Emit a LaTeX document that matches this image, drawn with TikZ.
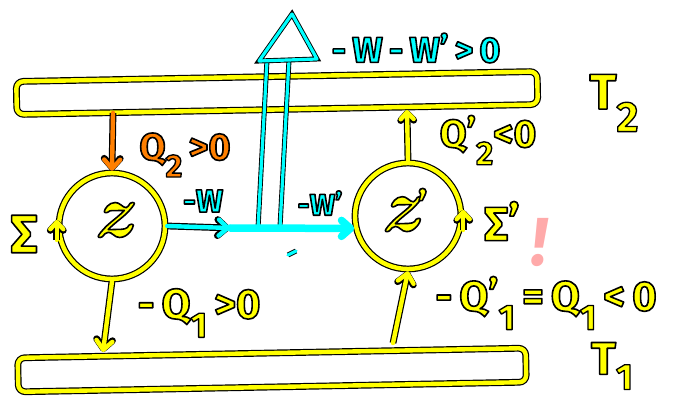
\documentclass[tikz,border=0pt]{standalone}
\usepackage{fontspec}
\setmainfont{Fira Sans}
\newfontfamily\lmfont{Latin Modern Roman}
\usetikzlibrary{arrows.meta}
\definecolor{yl}{HTML}{FFFF00}
\definecolor{cy}{HTML}{00FFFF}
\definecolor{orng}{HTML}{FF7F00}
\definecolor{pnk}{HTML}{FFAAAA}
\newcommand{\outl}[1]{\special{pdf:literal direct 0 0 0 RG 1.6 w 1 j 2 Tr}#1\special{pdf:literal direct 0 Tr}}
\newcommand{\lowsub}[1]{\raisebox{-0.45em}{\scalebox{0.85}{\outl{#1}}}}
\newcommand{\tsub}[1]{\raisebox{-0.33em}{\scalebox{0.8}{\outl{#1}}}}
\newcommand{\hprime}{\raisebox{0.05em}{\outl{’}}}
\tikzset{
  brush/.style={draw=#1, line width=4.4pt, line cap=round, line join=round,
    preaction={draw=black, line width=6.8pt}},
  thinbrush/.style={draw=#1, line width=3.2pt, line cap=round, line join=round,
    preaction={draw=black, line width=5pt}},
  barb/.style={-{Straight Barb[length=9pt,width=16pt,round]}},
  smallbarb/.style={-{Straight Barb[length=7pt,width=13pt,round]}},
  reservoir/.style={brush=yl, rectangle, rounded corners=7pt, minimum width=521pt,
    minimum height=33pt, rotate=1.1},
  engine/.style={brush=yl, circle, minimum size=106pt, inner sep=0pt},
  lab/.style={font=\bfseries\fontsize{#1}{#1}\selectfont, inner sep=0pt},
}
\begin{document}
\begin{tikzpicture}[x=1pt, y=-1pt]
\useasboundingbox (0,0) rectangle (675,398);
% reservoirs
\node[reservoir] (top) at (277,93) {};
\node[reservoir, minimum width=508pt, minimum height=34pt] (bot) at (272,370) {};
% engines
\node[engine] (lc) at (112,226) {};
\node[engine] (rc) at (408,216) {};
% engine direction marks
\draw[brush=yl, smallbarb] ([yshift=-14pt]lc.west) -- ([yshift=6pt]lc.west);
\draw[brush=yl, smallbarb] ([yshift=-14pt]rc.east) -- ([yshift=6pt]rc.east);
% heat flows
\coordinate (q2) at (113,113);
\coordinate (q1) at (103,352);
\coordinate (q2p) at (407,110);
\coordinate (q1p) at (393,343);
\draw[brush=orng, barb] (q2) -- (lc.north);
\draw[brush=yl, barb] (lc.south) -- (q1);
\draw[brush=yl, smallbarb] (rc.north) -- (q2p);
\draw[brush=yl, barb] (q1p) -- (rc.south);
% work flows
\coordinate (wmid) at (230,228);
\coordinate (j1) at (258,228);
\coordinate (j2) at (280,227);
\coordinate (t1) at (267,60);
\coordinate (t2) at (289,60);
\coordinate (tl) at (259,61);
\coordinate (tr) at (317,59);
\coordinate (tt) at (292,14);
\draw[thinbrush=cy] (j1) -- (t1);
\draw[thinbrush=cy] (j2) -- (t2);
\draw[thinbrush=cy] (tl) -- (tt) -- (tr) -- cycle;
\draw[brush=cy, barb] (lc.east) -- (wmid);
\draw[draw=cy, line width=7.5pt, line cap=round, barb] (wmid) -- (rc.193);
\draw[thinbrush=cy] (288,255) -- (296,251);
% labels
\node[lab=36, text=cy] (wtot) at (416,48) {\outl{-\,W\,-\,W}\hprime\outl{\,>\,0}};
\node[lab=38, text=orng] (lq2) at (185,155) {\outl{Q}\lowsub{2}\outl{\,>0}};
\node[lab=32, text=cy] (lw) at (203,201) {\outl{-W}};
\node[lab=30, text=cy] (lwp) at (320,203) {\outl{-W}\hprime};
\node[lab=39, text=yl] (lq2p) at (488,140) {\outl{Q}\hprime\lowsub{2}\outl{<0}};
\node[lab=48, text=yl] (sigp) at (502,221) {\outl{Σ}\hprime};
\node[lab=54, text=yl] (sig) at (24,234) {\outl{Σ}};
\node[lab=42, text=yl] (lq1) at (199,313) {\outl{-\,Q}\lowsub{1}\outl{\,>0}};
\node[lab=42, text=yl] (lq1p) at (546,303) {\outl{-\,Q}\hprime\lowsub{1}\outl{\,=\,Q}\lowsub{1}\outl{\,<\,0}};
\node[lab=50, text=yl] (t2l) at (614,103) {\outl{T}\lowsub{2}};
\node[lab=46, text=yl] (t1l) at (612,366) {\outl{T}\tsub{1}};
\node[font=\lmfont\bfseries\itshape\fontsize{76}{76}\selectfont, text=yl, inner sep=0pt] (z) at (112,220) {\outl{z}};
\node[font=\lmfont\bfseries\itshape\fontsize{76}{76}\selectfont, text=yl, inner sep=0pt] (zp) at (404,210) {\outl{z}{\normalfont\bfseries\fontsize{40}{40}\selectfont\raisebox{0.3em}{\outl{’}}}};
\node[font=\bfseries\itshape\fontsize{68}{68}\selectfont, text=pnk, inner sep=0pt] (excl) at (539,243) {!};
\end{tikzpicture}
\end{document}
